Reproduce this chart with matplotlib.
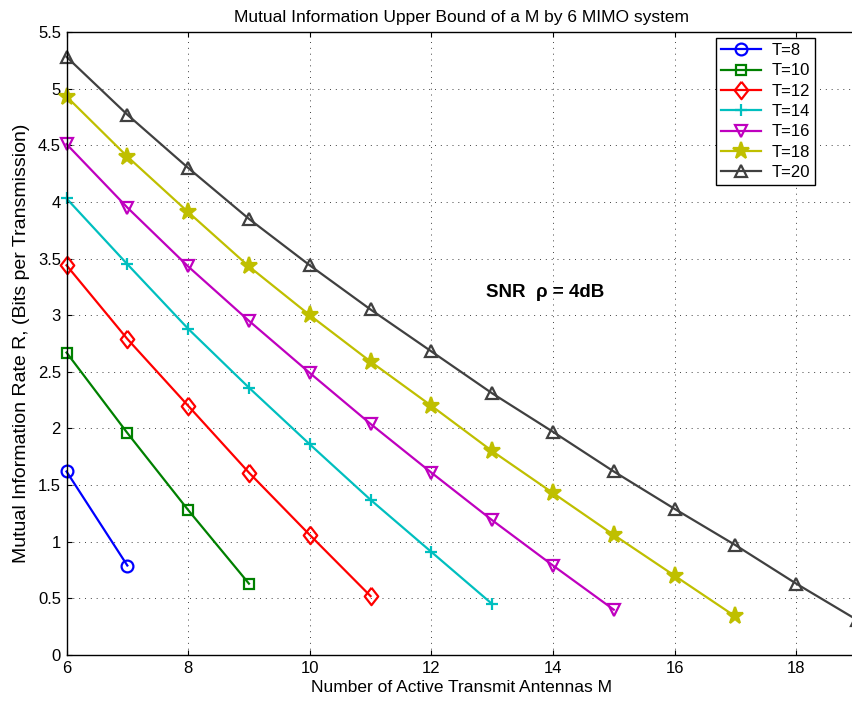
import numpy as np
import matplotlib.pyplot as plt

plt.rcParams['font.family'] = ['Liberation Sans', 'DejaVu Sans']
plt.rcParams['font.size'] = 12

# mutual information upper bound, one series per block length T
T_vals = [8, 10, 12, 14, 16, 18, 20]
R_T8 = [1.62, 0.79]
R_T10 = [2.67, 1.96, 1.28, 0.63]
R_T12 = [3.44, 2.79, 2.20, 1.61, 1.06, 0.52]
R_T14 = [4.03, 3.45, 2.88, 2.36, 1.86, 1.37, 0.91, 0.45]
R_T16 = [4.51, 3.95, 3.43, 2.95, 2.49, 2.04, 1.61, 1.19, 0.79, 0.40]
R_T18 = [4.93, 4.40, 3.91, 3.43, 3.00, 2.59, 2.20, 1.80, 1.43, 1.06, 0.70, 0.34]
R_T20 = [5.28, 4.77, 4.30, 3.85, 3.44, 3.05, 2.68, 2.31, 1.97, 1.62, 1.29, 0.97, 0.63, 0.31]
rates = [R_T8, R_T10, R_T12, R_T14, R_T16, R_T18, R_T20]

colors = [(0, 0, 1), (0, 0.5, 0), (1, 0, 0), (0, 0.75, 0.75),
          (0.75, 0, 0.75), (0.75, 0.75, 0), (0.25, 0.25, 0.25)]
# diamond a little narrower than it is tall
diamond = [(0, 1), (0.78, 0), (0, -1), (-0.78, 0), (0, 1)]
markers = ['o', 's', diamond, '+', 'v', '*', '^']
msizes = [8.5, 7, 12.5, 8, 9, 12.5, 9]

fig = plt.figure(figsize=(8.53, 7.04), dpi=100)
ax = fig.add_axes([0.078, 0.0696, 0.9267, 0.885])

for T, R, c, m, ms in zip(T_vals, rates, colors, markers, msizes):
    M = np.arange(6, 6 + len(R))
    face = c if m == '*' else 'none'
    ax.plot(M, R, color=c, marker=m, markersize=ms, markerfacecolor=face,
            markeredgewidth=1.6, linewidth=1.6, clip_on=False, label='T=%d' % T)

ax.set_xlim(6, 19)
ax.set_ylim(0, 5.5)
ax.set_xticks(np.arange(6, 19, 2))
ax.set_yticks(np.arange(0, 5.51, 0.5))
ax.set_yticklabels(['0', '0.5', '1', '1.5', '2', '2.5', '3', '3.5', '4', '4.5', '5', '5.5'])
ax.tick_params(direction='in', top=True, right=True, labelsize=12, pad=4)
ax.grid(True, linestyle=(0, (1, 5)), color='0.25', linewidth=0.7)
for s in ax.spines.values():
    s.set_linewidth(1.0)

ax.set_title('Mutual Information Upper Bound of a M by 6 MIMO system', fontsize=12.5, pad=7)
ax.set_xlabel('Number of Active Transmit Antennas M', fontsize=12.5, labelpad=3)
ax.set_ylabel('Mutual Information Rate R, (Bits per Transmission)', fontsize=14, labelpad=6)

ax.text(12.9, 3.2, 'SNR  ρ = 4dB', fontsize=13.5, fontweight='bold', va='center')

leg = ax.legend(loc='upper right', bbox_to_anchor=(815 / 853, 1 - 38 / 704),
                bbox_transform=fig.transFigure, borderaxespad=0, fancybox=False,
                framealpha=1, edgecolor='black', fontsize=12, handlelength=2.4,
                handletextpad=0.6, labelspacing=0.32, borderpad=0.3)
leg.get_frame().set_linewidth(1.0)

fig.savefig('out.png', dpi=100)
